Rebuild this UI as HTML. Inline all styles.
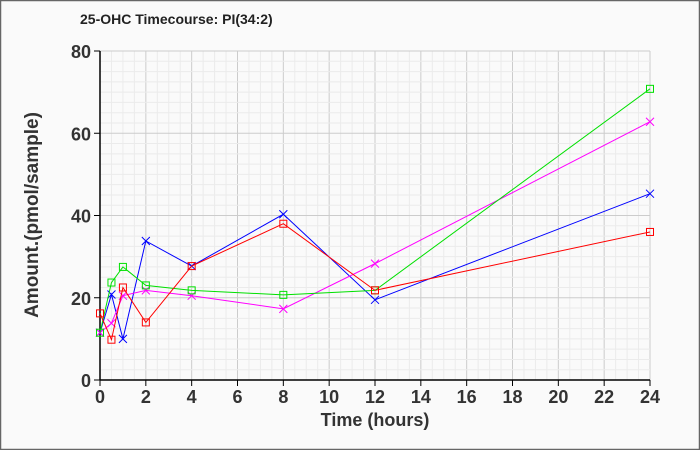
<!DOCTYPE html>
<html><head><style>body{margin:0;background:#fff}</style></head><body>
<svg width="700" height="450" xmlns="http://www.w3.org/2000/svg" font-family="Liberation Sans, sans-serif">
<rect x="0.5" y="0.5" width="699" height="449" fill="#fafafa" stroke="#666" stroke-width="1.5"/>
<text x="80" y="24" font-size="14" font-weight="bold" fill="#222">25-OHC Timecourse: PI(34:2)</text>
<g id="grid"></g>
<line x1="100" y1="51" x2="100" y2="380" stroke="#000" stroke-width="1.5"/>
<line x1="100" y1="380" x2="650" y2="380" stroke="#000" stroke-width="1.5"/>
<g id="ticks" font-size="18" font-weight="bold" fill="#333"></g>
<text x="375" y="426" font-size="18" font-weight="bold" fill="#333" text-anchor="middle">Time (hours)</text>
<text transform="translate(38,215) rotate(-90)" font-size="19" font-weight="bold" fill="#333" text-anchor="middle">Amount.(pmol/sample)</text>
<g id="series" fill="none" stroke-width="1"></g>
</svg>
<script>
const NS="http://www.w3.org/2000/svg";
const X=h=>100+h*550/24, Y=v=>380-v*329/80;
function el(p,t,a,txt){const e=document.createElementNS(NS,t);for(const k in a)e.setAttribute(k,a[k]);if(txt!==undefined)e.textContent=txt;document.getElementById(p).appendChild(e);return e;}
for(let h=0.5;h<=24;h+=0.5){const maj=h%2===0;el('grid','line',{x1:X(h),x2:X(h),y1:51,y2:380,stroke:maj?'#ccc':'#ebebeb'});}
for(let v=2.5;v<=80;v+=2.5){const maj=v%20===0;el('grid','line',{x1:100,x2:650,y1:Y(v),y2:Y(v),stroke:maj?'#ccc':'#ebebeb'});}
for(let h=0;h<=24;h+=2){el('ticks','line',{x1:X(h),x2:X(h),y1:380,y2:386,stroke:'#000'});el('ticks','text',{x:X(h),y:403,'text-anchor':'middle'},h);}
for(let v=0;v<=80;v+=20){el('ticks','line',{x1:94,x2:100,y1:Y(v),y2:Y(v),stroke:'#000'});el('ticks','text',{x:91,y:Y(v)+7,'text-anchor':'end'},v);}
const T=[0,0.5,1,2,4,8,12,24];
const S=[
 {c:'#0000ff',m:'x',d:[11.5,20.8,10,33.8,27.7,40.3,19.5,45.3]},
 {c:'#ff00ff',m:'x',d:[11.5,13.8,20.5,21.8,20.5,17.3,28.3,62.8]},
 {c:'#00e000',m:'s',d:[11.5,23.7,27.5,23,21.8,20.7,21.8,70.8]},
 {c:'#ff0000',m:'s',d:[16.2,9.8,22.5,14,27.7,38,21.8,36]},
];
for(const s of S){const t=s.t||T;const pts=s.d.map((v,i)=>[X(t[i]),Y(v)]);
 el('series','polyline',{points:pts.map(p=>p.join(',')).join(' '),stroke:s.c});
 for(const [x,y] of pts){ if(s.m==='s') el('series','rect',{x:x-3.5,y:y-3.5,width:7,height:7,stroke:s.c});
  else el('series','path',{d:`M${x-4},${y-4}L${x+4},${y+4}M${x-4},${y+4}L${x+4},${y-4}`,stroke:s.c});}
}
</script>
</body></html>
